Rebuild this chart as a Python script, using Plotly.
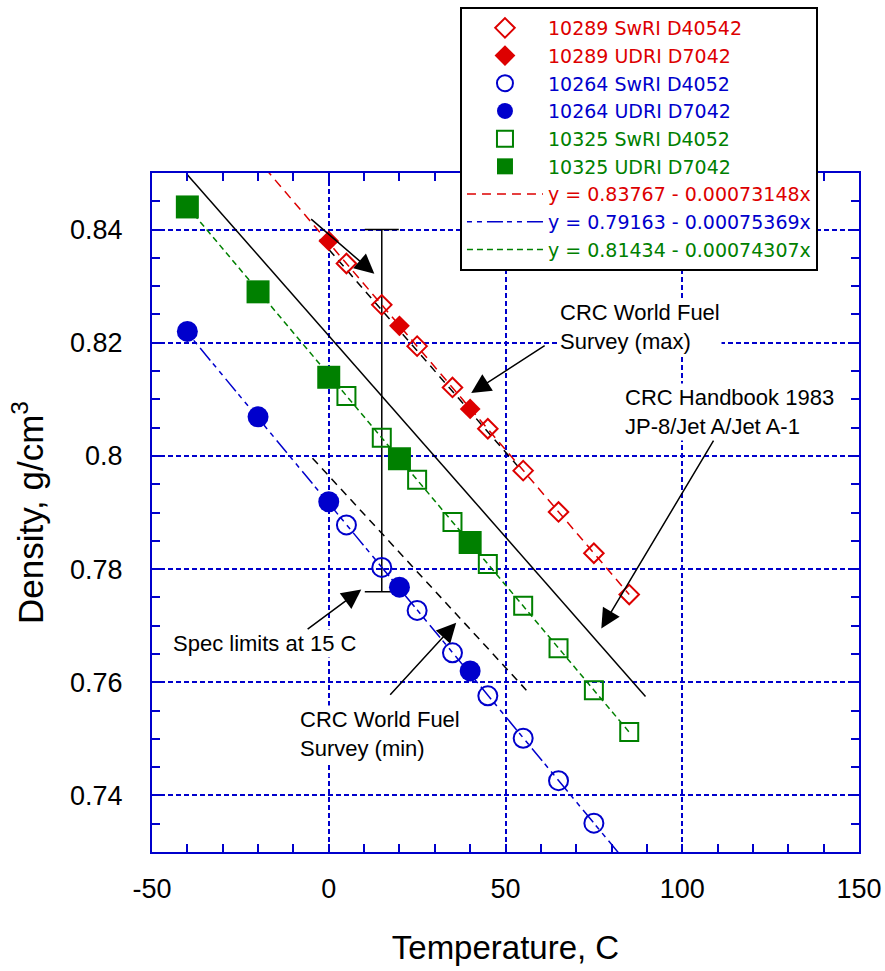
import plotly.graph_objects as go

# ---- colours -------------------------------------------------------------
RED = "#dd0000"
BLUE = "#0000cc"
GREEN = "#008000"
AXIS_BLUE = "#0000cc"
FONT = "Liberation Sans, Arial, sans-serif"
LEGEND_FONT = "DejaVu Sans, Liberation Sans, sans-serif"

# ---- measured densities (g/cm3) vs temperature (C) -----------------------
t_10289_swri = [5, 15, 25, 35, 45, 55, 65, 75, 85]
d_10289_swri = [0.8340, 0.8267, 0.8194, 0.8121, 0.8048, 0.7974, 0.7901, 0.7828, 0.7755]
t_10289_udri = [0, 20, 40]
d_10289_udri = [0.8380, 0.8230, 0.8083]

t_10264_swri = [5, 15, 25, 35, 45, 55, 65, 75]
d_10264_swri = [0.7878, 0.7803, 0.7727, 0.7652, 0.7576, 0.7501, 0.7426, 0.7351]
t_10264_udri = [-40, -20, 0, 20, 40]
d_10264_udri = [0.8220, 0.8069, 0.7919, 0.7768, 0.7620]

t_10325_swri = [5, 15, 25, 35, 45, 55, 65, 75, 85]
d_10325_swri = [0.8106, 0.8032, 0.7958, 0.7883, 0.7809, 0.7735, 0.7660, 0.7586, 0.7512]
t_10325_udri = [-40, -20, 0, 20, 40]
d_10325_udri = [0.8440, 0.8290, 0.8139, 0.7995, 0.7847]

# ---- linear fits: density = a - b * T ------------------------------------
fit_10289 = (0.83767, 0.00073148)
fit_10264 = (0.79163, 0.00075369)
fit_10325 = (0.81434, 0.00074307)
FIT_T = [-40, 85]

# ---- reference curves ----------------------------------------------------
crc_handbook_t = [-40.0, 89.6]
crc_handbook_d = [0.8497, 0.7575]
wfs_max_t = [-2.5, 54.0]
wfs_max_d = [0.8383, 0.7978]
wfs_min_t = [-4.6, 55.9]
wfs_min_d = [0.7996, 0.7586]

# spec limits at 15 C
spec_t = 15
spec_min = 0.776
spec_max = 0.840

# ---- axis ticks ----------------------------------------------------------
x_tickvals = [-50, 0, 50, 100, 150]
x_ticktext = ["-50", "0", "50", "100", "150"]
y_tickvals = [0.74, 0.76, 0.78, 0.80, 0.82, 0.84]
y_ticktext = ["0.74", "0.76", "0.78", "0.8", "0.82", "0.84"]


def fit_line(coef, ts):
    a, b = coef
    return [a - b * t for t in ts]


def legend_name(text, color):
    return f'<span style="color:{color}">{text}</span>'


fig = go.Figure()

# reference lines (black)
fig.add_trace(go.Scatter(x=crc_handbook_t, y=crc_handbook_d, mode="lines",
                         line=dict(color="black", width=1.5), showlegend=False))
fig.add_trace(go.Scatter(x=wfs_max_t, y=wfs_max_d, mode="lines",
                         line=dict(color="black", width=1.5, dash="8px,6px"), showlegend=False))
fig.add_trace(go.Scatter(x=wfs_min_t, y=wfs_min_d, mode="lines",
                         line=dict(color="black", width=1.5, dash="8px,6px"), showlegend=False))

# spec range bar
fig.add_trace(go.Scatter(
    x=[spec_t], y=[spec_min], mode="markers",
    marker=dict(size=1, color="rgba(0,0,0,0)"),
    error_y=dict(type="data", symmetric=False, array=[spec_max - spec_min], arrayminus=[0],
                 color="black", thickness=1.5, width=17),
    showlegend=False))

# fit lines
fig.add_trace(go.Scatter(x=FIT_T, y=fit_line(fit_10289, FIT_T), mode="lines",
                         name=legend_name(f"y = {fit_10289[0]:.5f} - {fit_10289[1]:.8f}x", RED),
                         line=dict(color=RED, width=1.5, dash="9px,6px"), legendrank=7))
fig.add_trace(go.Scatter(x=FIT_T, y=fit_line(fit_10264, FIT_T), mode="lines",
                         name=legend_name(f"y = {fit_10264[0]:.5f} - {fit_10264[1]:.8f}x", BLUE),
                         line=dict(color=BLUE, width=1.5, dash="5px,5px,5px,5px,16px,4px"), legendrank=8))
fig.add_trace(go.Scatter(x=FIT_T, y=fit_line(fit_10325, FIT_T), mode="lines",
                         name=legend_name(f"y = {fit_10325[0]:.5f} - {fit_10325[1]:.8f}x", GREEN),
                         line=dict(color=GREEN, width=1.5, dash="6px,4px"), legendrank=9))

# measured points
fig.add_trace(go.Scatter(x=t_10289_swri, y=d_10289_swri, mode="markers",
                         name=legend_name("10289 SwRI D40542", RED),
                         marker=dict(symbol="diamond-open", size=15, color=RED, line=dict(width=2)),
                         legendrank=1))
fig.add_trace(go.Scatter(x=t_10289_udri, y=d_10289_udri, mode="markers",
                         name=legend_name("10289 UDRI D7042", RED),
                         marker=dict(symbol="diamond", size=16, color=RED, line=dict(width=0)),
                         legendrank=2))
fig.add_trace(go.Scatter(x=t_10264_swri, y=d_10264_swri, mode="markers",
                         name=legend_name("10264 SwRI D4052", BLUE),
                         marker=dict(symbol="circle-open", size=19, color=BLUE, line=dict(width=2)),
                         legendrank=3))
fig.add_trace(go.Scatter(x=t_10264_udri, y=d_10264_udri, mode="markers",
                         name=legend_name("10264 UDRI D7042", BLUE),
                         marker=dict(symbol="circle", size=21, color=BLUE, line=dict(width=0)),
                         legendrank=4))
fig.add_trace(go.Scatter(x=t_10325_swri, y=d_10325_swri, mode="markers",
                         name=legend_name("10325 SwRI D4052", GREEN),
                         marker=dict(symbol="square-open", size=18, color=GREEN, line=dict(width=2)),
                         legendrank=5))
fig.add_trace(go.Scatter(x=t_10325_udri, y=d_10325_udri, mode="markers",
                         name=legend_name("10325 UDRI D7042", GREEN),
                         marker=dict(symbol="square", size=23, color=GREEN, line=dict(width=0)),
                         legendrank=6))

# ---- annotations ---------------------------------------------------------
ann_font = dict(family=FONT, size=22, color="black")
labels = [
    ("CRC World Fuel<br>Survey (max)", 64.8, 0.82274),
    ("CRC Handbook 1983<br>JP-8/Jet A/Jet A-1", 83.2, 0.80779),
    ("Spec limits at 15 C", -44.6, 0.76685),
    ("CRC World Fuel<br>Survey (min)", -8.8, 0.75092),
]
for text, x, y in labels:
    fig.add_annotation(x=x, y=y, xref="x", yref="y", text=text, showarrow=False,
                       xanchor="left", yanchor="middle", align="left", font=ann_font,
                       bgcolor="white", borderpad=1)

# arrows: (tail_x, tail_y, tip_x, tip_y)
arrows = [
    (-5.4, 0.84207, 12.9, 0.83221),
    (61.5, 0.81965, 40.3, 0.81110),
    (109.1, 0.80296, 77.1, 0.76950),
    (-6.4, 0.76920, 9.2, 0.77640),
    (17.0, 0.75752, 36.05, 0.77050),
]
for ax_, ay_, x, y in arrows:
    fig.add_annotation(x=x, y=y, ax=ax_, ay=ay_, xref="x", yref="y", axref="x", ayref="y",
                       text="", showarrow=True, arrowhead=2, arrowsize=2.6, arrowwidth=1.5,
                       arrowcolor="black", standoff=0, startstandoff=0)

axis_common = dict(
    showline=True, linecolor=AXIS_BLUE, linewidth=2, mirror="ticks",
    ticks="inside", ticklen=8, tickwidth=1.5, tickcolor=AXIS_BLUE,
    showgrid=True, gridcolor=AXIS_BLUE, gridwidth=1.5, griddash="5px,3px",
    zeroline=False, automargin=False,
    tickfont=dict(family=FONT, size=27, color="black"),
)

fig.update_xaxes(
    range=[-50, 150], tickmode="array", tickvals=x_tickvals, ticktext=x_ticktext,
    minor=dict(dtick=10, tick0=-50, ticks="inside", ticklen=8, tickwidth=1.5,
               tickcolor=AXIS_BLUE, showgrid=False),
    title=dict(text="Temperature, C", font=dict(family=FONT, size=33, color="black"), standoff=32),
    ticklabelstandoff=12,
    **axis_common,
)
fig.update_yaxes(
    range=[0.73, 0.85], tickmode="array", tickvals=y_tickvals, ticktext=y_ticktext,
    minor=dict(dtick=0.005, tick0=0.73, ticks="inside", ticklen=8, tickwidth=1.5,
               tickcolor=AXIS_BLUE, showgrid=False),
    title=dict(text="Density, g/cm<sup>3</sup>", font=dict(family=FONT, size=35, color="black"), standoff=16),
    ticklabelstandoff=22,
    **axis_common,
)

fig.update_layout(
    width=885, height=971,
    margin=dict(l=152, r=26, t=173, b=119, pad=0, autoexpand=False),
    paper_bgcolor="white", plot_bgcolor="white",
    font=dict(family=FONT, color="black"),
    legend=dict(
        x=0.4356, y=1.2445, xanchor="left", yanchor="top",
        bgcolor="white", bordercolor="black", borderwidth=2,
        font=dict(family=LEGEND_FONT, size=19),
        itemwidth=76, tracegroupgap=0,
    ),
)

fig.write_html("out.html")
